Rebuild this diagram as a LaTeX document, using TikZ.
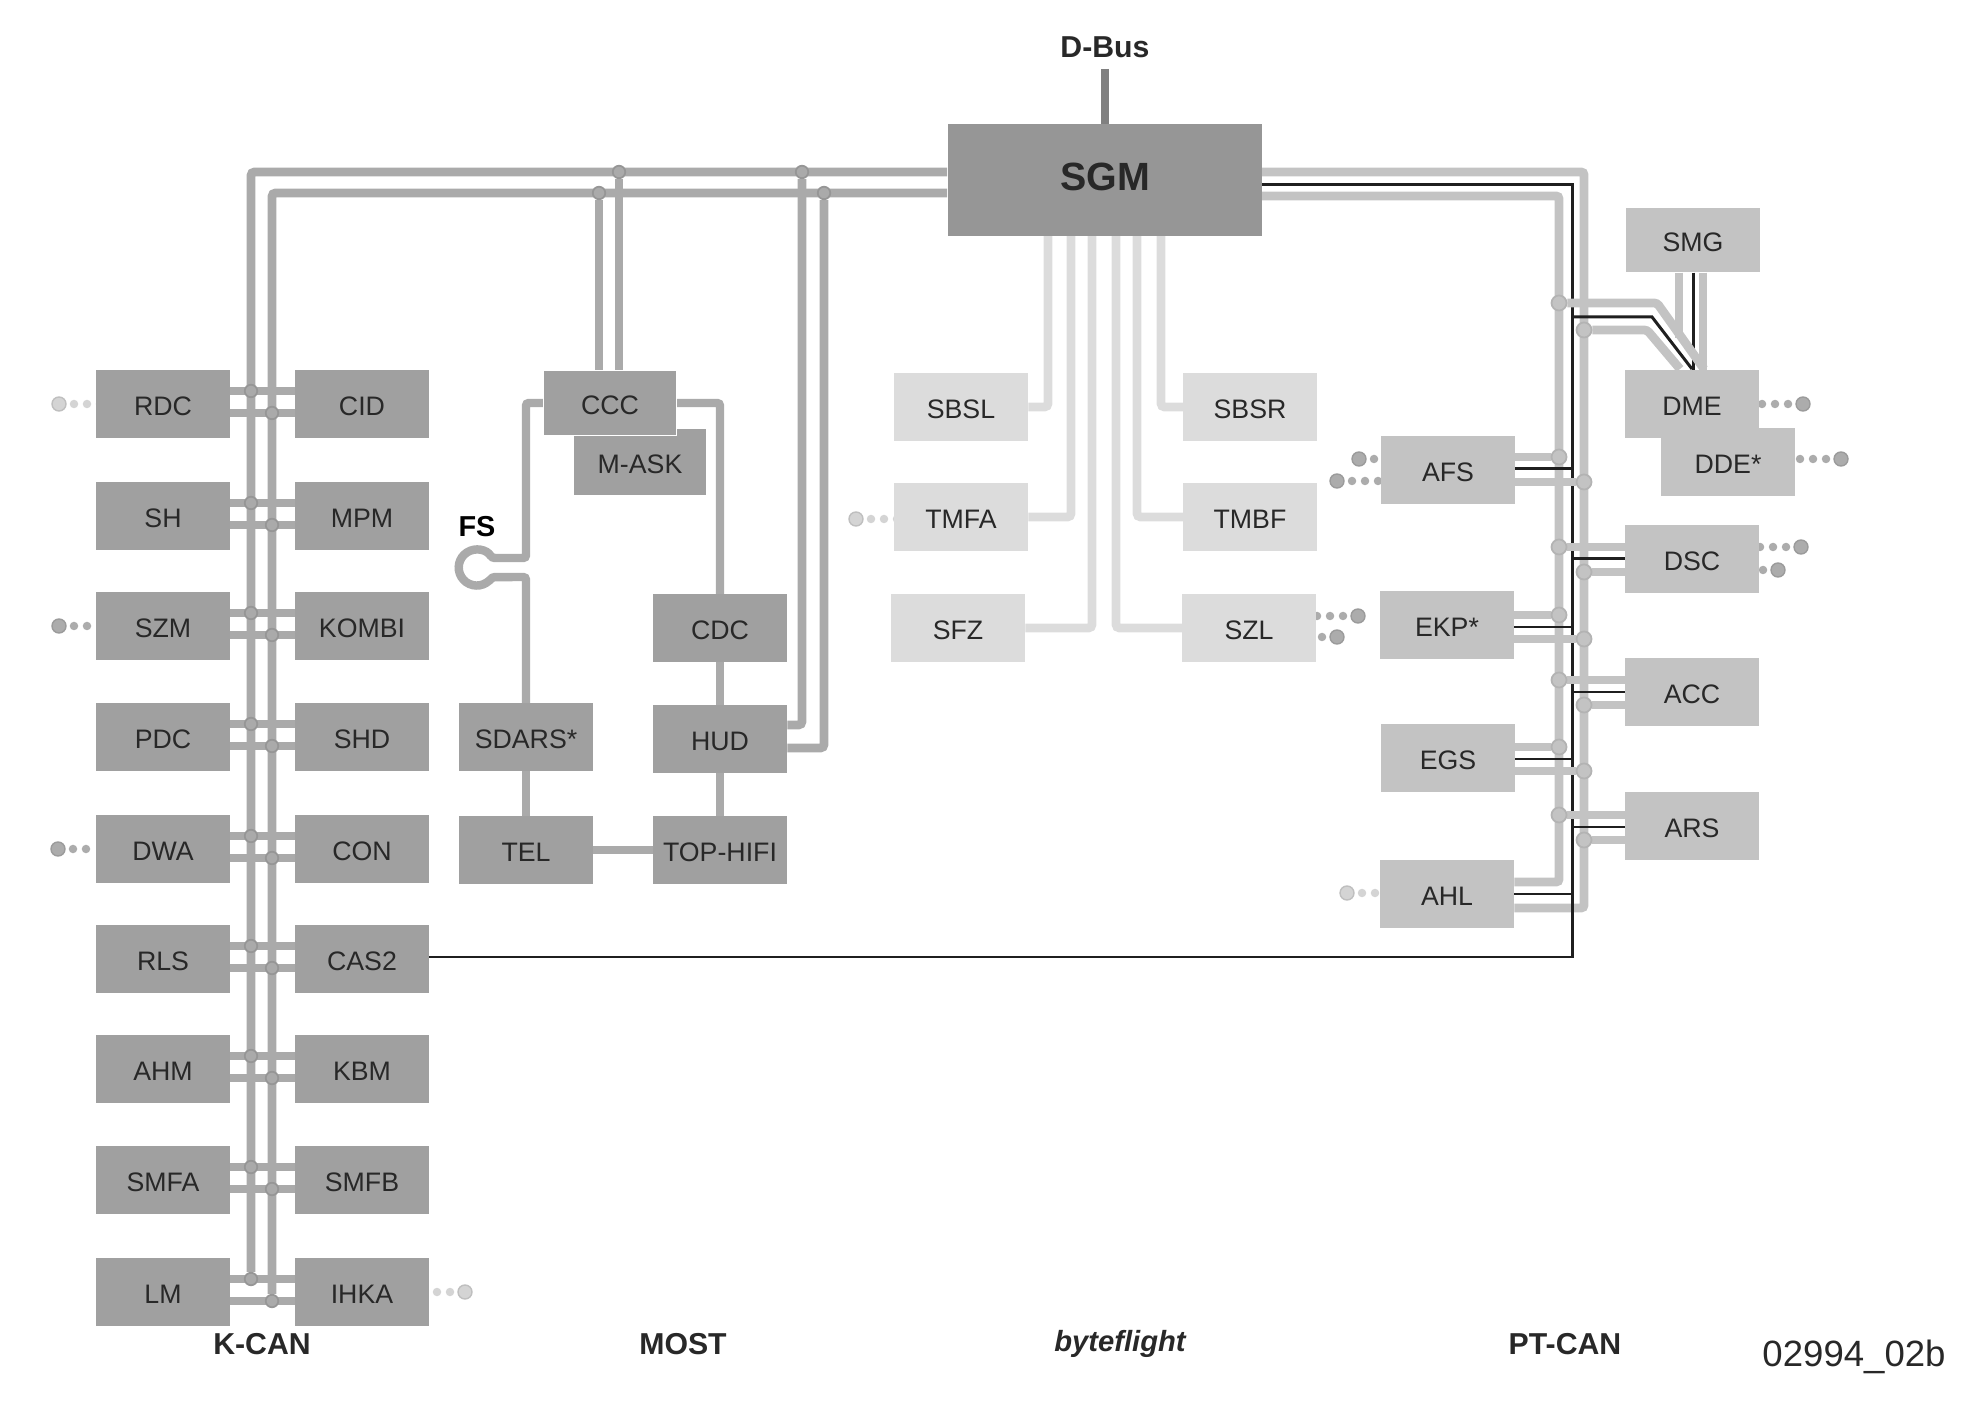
\documentclass[tikz,border=0pt]{standalone}
\usepackage{fontspec}
\setmainfont{Liberation Sans}
\usetikzlibrary{positioning, backgrounds}
\definecolor{kbase}{RGB}{160,160,160}
\definecolor{kwire}{RGB}{170,170,170}
\definecolor{kring}{RGB}{150,150,150}
\definecolor{sgmbase}{RGB}{150,150,150}
\definecolor{ptbase}{RGB}{195,195,195}
\definecolor{flightbase}{RGB}{220,220,220}
\definecolor{inkdark}{RGB}{40,40,40}
\definecolor{stubmid}{RGB}{172,172,172}
\definecolor{stubpale}{RGB}{212,212,212}

\begin{document}
\begin{tikzpicture}[x=0.01cm, y=-0.01cm,
    box/.style={rectangle, minimum width=1.33cm, minimum height=0.67cm,
                inner sep=0pt, text=inkdark, text height=6.6pt, text depth=0pt,
                font=\fontsize{7.6}{9}\selectfont},
    kbox/.style={box, fill=kbase},
    ptbox/.style={box, fill=ptbase},
    flightbox/.style={box, fill=flightbase},
    buslabel/.style={font=\fontsize{8.6}{10}\bfseries\selectfont, text=inkdark, inner sep=0pt},
    kcan/.style={color=kwire, line width=2.5pt, rounded corners=1pt},
    most/.style={color=kwire, line width=2.4pt, rounded corners=0.8pt},
    flight/.style={color=flightbase, line width=2.5pt, rounded corners=1pt},
    ptcan/.style={color=ptbase, line width=2.5pt, rounded corners=0.8pt},
    wire/.style={color=black!88, line width=0.85pt},
    kdot/.style={circle, fill=kwire, draw=kring, line width=0.5pt, minimum size=0.125cm, inner sep=0pt},
    ptdot/.style={circle, fill=ptbase, draw=ptbase!92!black, line width=0.5pt, minimum size=0.15cm, inner sep=0pt},
    bigdot/.style={circle, fill=#1, draw=#1!90!black, line width=0.4pt, minimum size=0.14cm, inner sep=0pt},
    smalldot/.style={circle, fill=#1, minimum size=0.085cm, inner sep=0pt},
]
\useasboundingbox (0,0) rectangle (1982,1404);

% ─── SGM and D-Bus ───────────────────────────────────────────────
\node[box, fill=sgmbase, minimum width=3.14cm, minimum height=1.11cm, text height=5.7pt,
      font=\fontsize{11.2}{13}\bfseries\selectfont] (sgm) at (1105,180) {SGM};
\node[buslabel] (dbus) at (1105,47) {D-Bus};
\begin{scope}[on background layer]
\draw[color=black!50, line width=2.3pt, shorten <=3pt] (dbus.south) -- (sgm.north);
\end{scope}

% ─── K-CAN (two columns, two buses) ──────────────────────────────
\coordinate (kup) at (948,172);
\coordinate (klow) at (948,193);
\foreach \lname/\ltext/\rname/\rtext/\y in {rdc/RDC/cid/CID/404, sh/SH/mpm/MPM/516,
    szm/SZM/kombi/KOMBI/626, pdc/PDC/shd/SHD/737, dwa/DWA/con/CON/849,
    rls/RLS/cas2/CAS2/959, ahm/AHM/kbm/KBM/1069, smfa/SMFA/smfb/SMFB/1180,
    lm/LM/ihka/IHKA/1292} {
  \node[kbox] (\lname) at (163,\y) {\ltext};
  \node[kbox] (\rname) at (362,\y) {\rtext};
  \node[kdot] (\lname a) at (251,\y-13) {};
  \node[kdot] (\lname b) at (272,\y+9) {};
  \begin{scope}[on background layer]
  \draw[kcan] (\lname.east |- \lname a) -- (\rname.west |- \lname a);
  \draw[kcan] (\lname.east |- \lname b) -- (\rname.west |- \lname b);
  \end{scope}
}

% ─── MOST ────────────────────────────────────────────────────────
\node[kbox, minimum width=1.32cm, minimum height=0.65cm] (mask) at (640,462) {M-ASK};
\node[kbox, minimum width=1.32cm, minimum height=0.65cm, draw=white, line width=0.3pt] (ccc) at (610,403) {CCC};
\node[kbox] (cdc) at (720,628) {CDC};
\node[kbox] (hud) at (720,739) {HUD};
\node[kbox] (tophifi) at (720,850) {TOP-HIFI};
\node[kbox] (sdars) at (526,737) {SDARS*};
\node[kbox] (tel) at (526,850) {TEL};
\node[buslabel, font=\fontsize{8.2}{10}\bfseries\selectfont, text=black] (fs) at (477,527) {FS};
\coordinate (fsup) at (492,558);
\coordinate (fslow) at (492,577);
\node[kdot] (cccup) at (619,172) {};
\node[kdot] (ccclow) at (599,193) {};
\node[kdot] (hudup) at (802,172) {};
\node[kdot] (hudlow) at (824,193) {};

\begin{scope}[on background layer]
\draw[kcan] (sgm.west |- kup) -| (lma);
\draw[kcan] (sgm.west |- klow) -| (lmb);
\draw[kcan] (cccup) -- (ccc.north -| cccup);
\draw[kcan] (ccclow) -- (ccc.north -| ccclow);
\draw[kcan] (hud.east |- 0,725) -| (hudup);
\draw[kcan] (hud.east |- 0,748) -| (hudlow);
\draw[most] (ccc.west) -| (sdars.north |- fsup) -- (fsup)
  arc[start angle=32, end angle=328, radius=0.18cm] -- (sdars.north |- fslow) -- (sdars.north);
\draw[most] (ccc.east) -| (cdc.north);
\draw[most] (cdc.south) -- (hud.north);
\draw[most] (hud.south) -- (tophifi.north);
\draw[most] (sdars.south) -- (tel.north);
\draw[most] (tel.east) -- (tophifi.west);
\end{scope}

% ─── byteflight ──────────────────────────────────────────────────
\node[flightbox] (sbsl) at (961,407) {SBSL};
\node[flightbox] (tmfa) at (961,517) {TMFA};
\node[flightbox] (sfz) at (958,628) {SFZ};
\node[flightbox] (sbsr) at (1250,407) {SBSR};
\node[flightbox] (tmbf) at (1250,517) {TMBF};
\node[flightbox] (szl) at (1249,628) {SZL};
\begin{scope}[on background layer]
\foreach \name/\x in {sbsl/1048, tmfa/1071, sfz/1092}
  \draw[flight] (\name.east) -| (\x,200);
\foreach \name/\x in {sbsr/1161, tmbf/1137, szl/1116}
  \draw[flight] (\name.west) -| (\x,200);
\end{scope}

% ─── PT-CAN ──────────────────────────────────────────────────────
\foreach \name/\ltext/\x/\y in {afs/AFS/1448/470, ekp/EKP*/1447/625, egs/EGS/1448/758,
    ahl/AHL/1447/894, dsc/DSC/1692/559, acc/ACC/1692/692, ars/ARS/1692/826,
    dde/DDE*/1728/462, dme/DME/1692/404}
  \node[ptbox] (\name) at (\x,\y) {\ltext};
\node[ptbox, minimum height=0.64cm] (smg) at (1693,240) {SMG};

\coordinate (ptup) at (1262,172);
\coordinate (ptmid) at (1262,185);
\coordinate (ptlow) at (1262,196);
\coordinate (ahlup) at (1559,882);
\coordinate (ahlmid) at (1572,894);
\coordinate (ahllow) at (1584,908);
\coordinate (wireend) at (1572,957);
\node[ptdot] (dmea) at (1559,303) {};
\node[ptdot] (dmeb) at (1584,330) {};
\foreach \name/\ya/\yc in {afs/457/482, ekp/615/639, egs/747/771,
    dsc/547/572, acc/680/705, ars/815/840} {
  \node[ptdot] (\name a) at (1559,\ya) {};
  \node[ptdot] (\name b) at (1584,\yc) {};
}

\begin{scope}[on background layer]
\draw[ptcan] (ptup) -| (ahllow) -- (ahl.east |- ahllow);
\draw[ptcan] (ptlow) -| (ahlup) -- (ahl.east |- ahlup);
\draw[wire] (ptmid) -| (wireend) -- (cas2.east |- wireend);
\draw[wire] (ahl.east |- ahlmid) -- (ahlmid);
% branches, gray over the black wire
\foreach \name/\yb in {afs/469, ekp/627, egs/759} {
  \draw[ptcan] (\name.east |- \name a) -- (\name a);
  \draw[ptcan] (\name.east |- \name b) -- (\name b);
  \draw[wire] (\name.east |- 0,\yb) -- (1572,\yb);
}
\foreach \name/\yb in {dsc/559, acc/692, ars/827} {
  \draw[ptcan] (\name.west |- \name a) -- (\name a);
  \draw[ptcan] (\name.west |- \name b) -- (\name b);
  \draw[wire] (\name.west |- 0,\yb) -- (1572,\yb);
}
% DME and SMG
\draw[wire] (1572,317) -- (1652,317) -- (1692,369);
\draw[wire] (smg.south) -- (dme.north -| smg.south);
\draw[ptcan] (smg.south -| 1679,0) -- (1679,338);
\draw[ptcan] (smg.south -| 1703,0) -- (dme.north -| 1703,0);
\draw[ptcan] (dmea) -- (1657,303) -- (1704,369);
\draw[ptcan] (dmeb) -- (1647,330) -- (1680,369);
\end{scope}

% ─── dotted stubs ────────────────────────────────────────────────
\foreach \name/\tone/\xb/\y/\dir/\n in {rdc/stubpale/59/404/1/3, szm/stubmid/59/626/1/2,
    dwa/stubmid/58/849/1/2, ihka/stubpale/465/1292/-1/2, tmfa/stubpale/856/519/1/3,
    afsa/stubmid/1359/459/1/1, afsb/stubmid/1337/481/1/3, szla/stubmid/1358/616/-1/3,
    szlb/stubmid/1337/637/-1/1, dme/stubmid/1803/404/-1/3, dde/stubmid/1841/459/-1/3,
    dsca/stubmid/1801/547/-1/3, dscb/stubmid/1778/570/-1/1, ahl/stubpale/1347/893/1/2} {
  \node[bigdot=\tone] (\name stub) at (\xb,\y) {};
  \begin{scope}[on background layer]
  \foreach \k in {1,...,\n}
    \node[smalldot=\tone] (\name stub\k) at (\xb+\dir*2+\dir*13*\k,\y) {};
  \end{scope}
}

% ─── bus names ───────────────────────────────────────────────────
\node[buslabel] (kcanname) at (262,1344) {K-CAN};
\node[buslabel] (mostname) at (683,1344) {MOST};
\node[buslabel, font=\fontsize{8.3}{10}\bfseries\itshape\selectfont] (flightname) at (1120,1344) {byteflight};
\node[buslabel] (ptcanname) at (1565,1344) {PT-CAN};
\node[font=\fontsize{10.4}{12}\selectfont, text=inkdark, inner sep=0pt] (figcode) at (1854,1357) {02994\_02b};

\end{tikzpicture}
\end{document}
